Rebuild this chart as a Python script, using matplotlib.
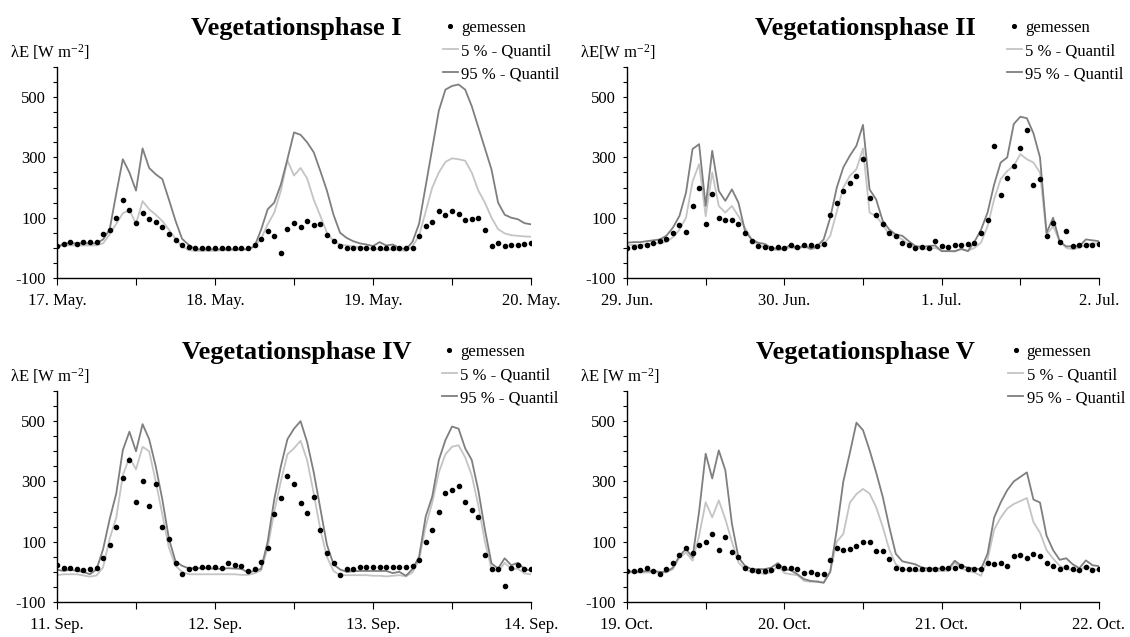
import numpy as np
import matplotlib.pyplot as plt

plt.rcParams['font.family'] = 'Liberation Serif'
plt.rcParams['mathtext.fontset'] = 'custom'
plt.rcParams['mathtext.rm'] = 'Liberation Serif'
plt.rcParams['mathtext.it'] = 'Liberation Serif:italic'

# stuendliche Werte, 3 Tage (73 Werte je Reihe)
# Vegetationsphase I
gem_1 = [5, 14, 20, 13, 20, 20, 20, 45, 60, 100, 160, 125,
         81, 117, 95, 85, 70, 45, 26, 9, 3, 0, 0, 0,
         0, 0, 0, 0, 0, 0, 8, 28, 55, 40, -17, 63,
         83, 69, 89, 76, 78, 42, 22, 6, 0, 0, 0, 0,
         0, 0, 0, 0, 0, 0, 0, 39, 72, 87, 122, 109,
         122, 111, 91, 97, 100, 60, 5, 15, 5, 10, 8, 12,
         16]
q05_1 = [5, 8, 8, 8, 8, 8, 8, 15, 45, 80, 115, 125,
         80, 155, 128, 110, 89, 60, 30, 5, -8, -10, -10, -10,
         -10, -8, -8, -8, -5, -5, 5, 30, 78, 117, 189, 290,
         240, 265, 230, 160, 106, 50, 22, 11, 8, 5, 2, 0,
         -5, -5, -8, -5, -8, -10, 5, 40, 120, 200, 250, 285,
         297, 294, 289, 250, 190, 150, 100, 62, 48, 42, 40, 38,
         37]
q95_1 = [0, 15, 15, 15, 15, 15, 15, 28, 61, 180, 294, 250,
         190, 330, 265, 244, 228, 160, 90, 30, 10, -5, -5, -5,
         -5, -5, -5, -5, -5, -5, 5, 60, 128, 150, 210, 294,
         383, 375, 350, 317, 255, 190, 110, 50, 33, 22, 15, 11,
         6, 19, 8, 11, 0, -5, 20, 80, 205, 330, 455, 525,
         537, 542, 525, 470, 400, 330, 260, 150, 110, 100, 95, 82,
         78]

# Vegetationsphase II
gem_2 = [0, 3, 5, 10, 17, 22, 30, 48, 75, 52, 140, 200,
         78, 180, 100, 92, 92, 80, 50, 22, 5, 2, 0, 2,
         0, 9, 2, 8, 9, 6, 13, 110, 150, 190, 215, 240,
         296, 167, 110, 80, 48, 39, 17, 11, 0, 2, 0, 22,
         6, 2, 11, 8, 14, 17, 50, 94, 337, 175, 233, 270,
         330, 392, 209, 228, 40, 83, 19, 56, 5, 8, 10, 10,
         13]
q05_2 = [8, 10, 10, 12, 15, 15, 20, 35, 60, 100, 220, 278,
         105, 250, 139, 117, 139, 105, 67, 28, 8, 3, -5, -8,
         -5, 2, -5, 5, -5, 0, 11, 40, 120, 200, 239, 261,
         330, 117, 105, 78, 44, 39, 28, 11, 0, -3, -5, 0,
         -10, -10, -12, -5, -10, 0, 17, 72, 161, 228, 255, 272,
         311, 294, 283, 250, 44, 72, 22, 0, -5, 0, 10, 15,
         15]
q95_2 = [17, 19, 19, 22, 25, 28, 40, 67, 106, 183, 328, 344,
         139, 322, 189, 156, 194, 150, 56, 28, 17, 13, 0, -3,
         -3, 11, -3, 9, -3, 5, 28, 100, 200, 267, 306, 339,
         408, 194, 161, 90, 61, 44, 40, 22, 6, 3, 6, 8,
         -11, -11, -11, -3, -11, 20, 60, 117, 210, 283, 300, 411,
         435, 430, 380, 300, 50, 100, 20, 5, 5, 5, 28, 25,
         22]

# Vegetationsphase IV
gem_4 = [22, 14, 14, 9, 7, 11, 14, 45, 90, 150, 310, 372,
         233, 300, 219, 290, 150, 110, 30, -6, 11, 14, 17, 17,
         17, 14, 31, 22, 20, 3, 11, 34, 78, 191, 244, 318,
         290, 230, 194, 250, 139, 61, 30, -11, 9, 9, 15, 15,
         15, 17, 15, 15, 17, 17, 20, 40, 100, 140, 199, 260,
         270, 285, 233, 205, 183, 55, 11, 8, -48, 14, 22, 8,
         8]
q05_4 = [-11, -8, -8, -8, -12, -16, -12, 15, 110, 180, 320, 380,
         340, 415, 400, 300, 190, 80, 20, 0, -8, -8, -8, -8,
         -8, -8, -8, -8, -10, -10, -5, 5, 80, 200, 300, 390,
         410, 435, 370, 260, 140, 50, 3, -11, -11, -11, -11, -11,
         -13, -13, -15, -13, -11, -15, -2, 40, 150, 230, 330, 390,
         415, 420, 380, 320, 220, 100, 10, 0, 30, 10, 10, -5,
         -8]
q95_4 = [7, 3, 7, 3, 0, -8, 8, 75, 175, 260, 404, 465,
         400, 490, 440, 350, 240, 110, 35, 20, 12, 12, 12, 12,
         10, 10, 12, 11, 10, -2, 3, 10, 100, 240, 350, 440,
         475, 500, 430, 330, 210, 90, 25, 8, 0, 2, 3, 3,
         3, 3, 3, -4, 0, -13, 9, 50, 183, 250, 371, 437,
         482, 475, 410, 371, 270, 140, 28, 11, 45, 22, 30, 10,
         3]

# Vegetationsphase V
gem_5 = [3, 3, 7, 14, 3, -8, 10, 28, 55, 78, 62, 88,
         100, 126, 72, 114, 66, 48, 12, 5, 3, 3, 7, 20,
         14, 14, 9, -4, -2, -6, -6, 40, 80, 73, 76, 87,
         98, 98, 70, 70, 44, 14, 8, 8, 10, 10, 8, 10,
         12, 14, 12, 20, 10, 11, 8, 31, 26, 31, 20, 53,
         56, 46, 59, 53, 31, 20, 11, 15, 8, 5, 15, 5,
         8]
q05_5 = [-2, -2, -2, -2, -2, -2, -2, 9, 48, 64, 37, 120,
         231, 181, 237, 175, 100, 31, 9, -2, -2, -8, -2, 20,
         -4, -8, -11, -30, -33, -30, -36, 0, 100, 126, 230, 258,
         275, 260, 215, 150, 75, 25, 11, 3, 3, 3, 3, 3,
         3, 3, 31, 11, 3, -2, -13, 40, 140, 180, 210, 225,
         235, 245, 165, 130, 72, 44, 20, 10, 5, 3, 20, 10,
         5]
q95_5 = [3, 0, 0, 3, 3, 0, 0, 14, 53, 76, 48, 200,
         392, 310, 403, 337, 160, 48, 20, 9, 9, 9, 14, 29,
         9, 5, -8, -24, -30, -33, -36, 0, 140, 300, 395, 495,
         470, 404, 330, 250, 150, 60, 35, 30, 25, 14, 11, 11,
         11, 9, 37, 20, 14, 11, 9, 60, 180, 230, 271, 300,
         315, 330, 240, 230, 120, 72, 40, 45, 25, 12, 38, 22,
         19]

titles = ['Vegetationsphase I', 'Vegetationsphase II',
          'Vegetationsphase IV', 'Vegetationsphase V']
day_labels = [['17. May.', '18. May.', '19. May.', '20. May.'],
              ['29. Jun.', '30. Jun.', '1. Jul.', '2. Jul.'],
              ['11. Sep.', '12. Sep.', '13. Sep.', '14. Sep.'],
              ['19. Oct.', '20. Oct.', '21. Oct.', '22. Oct.']]
ylabels = ['λE [W m$^{-2}$]', 'λE[W m$^{-2}$]',
           'λE [W m$^{-2}$]', 'λE [W m$^{-2}$]']
gem = [gem_1, gem_2, gem_4, gem_5]
q05 = [q05_1, q05_2, q05_4, q05_5]
q95 = [q95_1, q95_2, q95_4, q95_5]

W, H = 1130, 637
fig = plt.figure(figsize=(W / 100, H / 100), dpi=100)
# Achsen in Pixeln: links, oben, rechts, unten
boxes = [(57, 67, 531, 278), (627, 67, 1099, 278),
         (57, 391, 531, 602), (627, 391, 1099, 602)]
legend_r = [1.06, 1.052, 1.058, 1.055]

t = np.arange(73) / 24.0
yt = np.arange(-100, 601, 50)

for i in range(4):
    x0, y0, x1, y1 = boxes[i]
    ax = fig.add_axes([x0 / W, 1 - y1 / H, (x1 - x0) / W, (y1 - y0) / H])
    l05, = ax.plot(t, q05[i], color='#c4c4c4', lw=1.3)
    l95, = ax.plot(t, q95[i], color='#7f7f7f', lw=1.3)
    dots, = ax.plot(t, gem[i], 'o', color='black', ms=3.0, mec='black')

    ax.set_xlim(0, 3)
    ax.set_ylim(-100, 600)
    ax.spines['top'].set_visible(False)
    ax.spines['right'].set_visible(False)
    ax.spines['left'].set_linewidth(1.0)
    ax.spines['bottom'].set_linewidth(1.0)

    ax.set_yticks(yt)
    ax.set_yticklabels([str(v) if v in (-100, 100, 300, 500) else '' for v in yt])
    xt = np.arange(0, 3.01, 0.5)
    ax.set_xticks(xt)
    ax.set_xticklabels([day_labels[i][int(v)] if v == int(v) else '' for v in xt])
    ax.tick_params(axis='y', length=3, width=0.8, labelsize=12, pad=5)
    ax.tick_params(axis='x', length=5, width=0.8, labelsize=12, pad=6)

    ax.text(0.505, 1 + 32 / 211, titles[i], transform=ax.transAxes, ha='center',
            va='baseline', fontsize=19, fontweight='bold')
    ax.text(-0.1, 1.07, ylabels[i], transform=ax.transAxes, ha='left',
            va='center', fontsize=12)
    ax.legend([dots, l05, l95], ['gemessen', '5 % - Quantil', '95 % - Quantil'],
              loc='upper right', bbox_to_anchor=(legend_r[i], 1.222), frameon=False,
              fontsize=12, handlelength=0.9, handletextpad=0.2,
              labelspacing=0.42, borderaxespad=0, borderpad=0, markerscale=0.9)

fig.savefig('out.png', dpi=100)
